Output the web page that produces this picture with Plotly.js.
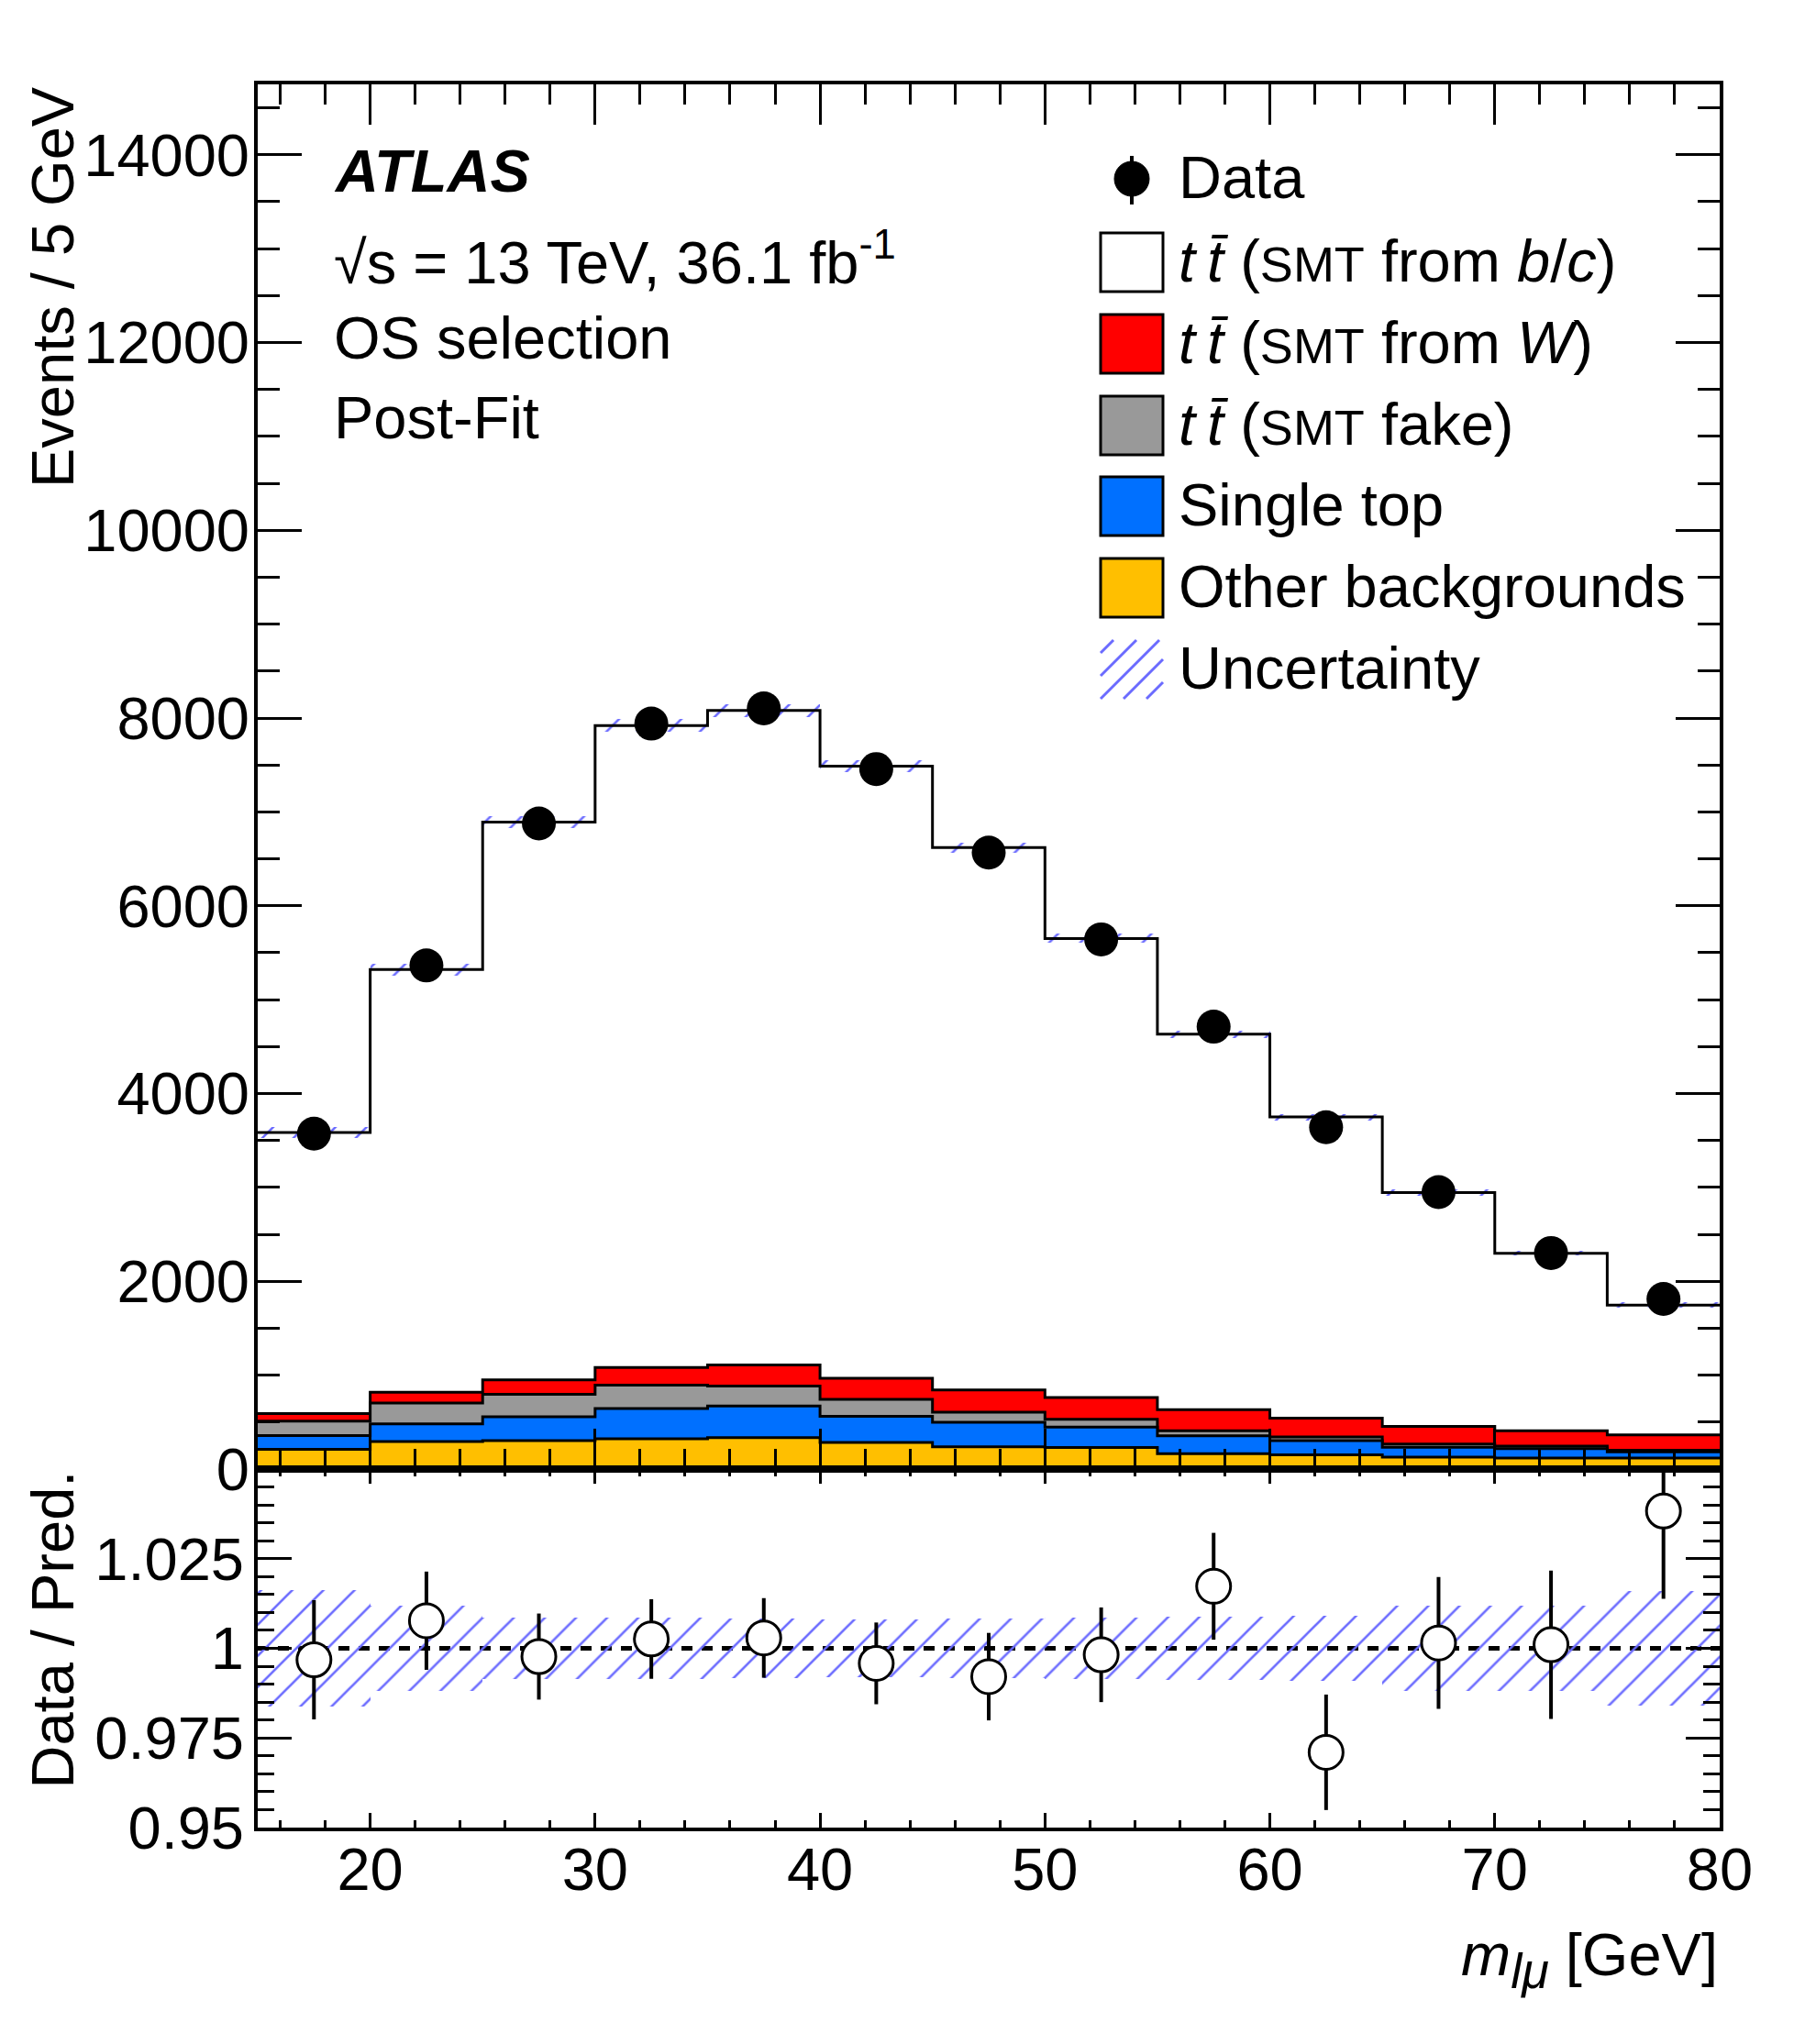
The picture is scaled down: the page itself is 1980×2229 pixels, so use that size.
<!DOCTYPE html>
<html><head><meta charset="utf-8">
<script src="https://cdn.plot.ly/plotly-3.0.1.min.js"></script>
<style>body{margin:0;background:#fff}</style>
</head><body>
<div id="chart" style="width:1980px;height:2229px"></div>
<script>
// ---------------- data ----------------
const binEdges   = [15,20,25,30,35,40,45,50,55,60,65,70,75,80];
const binCenters = [17.5,22.5,27.5,32.5,37.5,42.5,47.5,52.5,57.5,62.5,67.5,72.5,77.5];
const dataEvents = [3573,5364,6877,7941,8103,7456,6567,5642,4712,3641,2950,2301,1812];
const ttbarBC    = [2993,4503,5940,6838,6971,6520,5778,4889,4000,3207,2492,1891,1381];
const ttbarW     = [82,115,155,187,224,224,237,233,224,201,188,165,164];
const ttbarFake  = [154,224,240,250,214,181,108,83,53,40,33,26,17];
const singleTop  = [146,187,253,323,336,279,260,217,191,151,105,99,66];
const otherBkg   = [210,293,303,322,335,283,237,230,164,151,128,118,118];
const relUnc     = [0.0163,0.0119,0.0086,0.0085,0.0082,0.0080,0.0082,0.0086,0.0087,0.0090,0.0120,0.0120,0.0160];
const ratioVals  = [0.9968,1.0077,0.9977,1.0026,1.0029,0.9958,0.9921,0.9982,1.0173,0.9710,1.0015,1.0010,1.0383];
const ratioErr   = [0.0166,0.0137,0.0120,0.0111,0.0111,0.0114,0.0122,0.0132,0.0149,0.0161,0.0184,0.0207,0.0245];
const mainTickVals = [0,2000,4000,6000,8000,10000,12000,14000];
const mainTickText = ['0','2000','4000','6000','8000','10000','12000','14000'];
const ratioTickVals = [0.95,0.975,1,1.025,1.05];
const ratioTickText = ['0.95','0.975','1','1.025',' '];

// ---------------- derived stacks ----------------
const add = (a,b) => a.map((v,i)=>v+b[i]);
const cumOther = otherBkg.slice();
const cumST    = add(cumOther, singleTop);
const cumFake  = add(cumST, ttbarFake);
const cumW     = add(cumFake, ttbarW);
const total    = add(cumW, ttbarBC);
const step = a => a.concat([a[a.length-1]]);

// ---------------- geometry helpers (layout, in pixels) ----------------
const W = 1980, H = 2229;
const L = 281, R = 1875, T = 92, B = 1993, SPLIT = 1602;
const X = px => (px - L) / (R - L);
const Y = py => (B - py) / (B - T);
const yd = Y(SPLIT);

const FONT = 'Liberation Sans, Arial, Helvetica, sans-serif';
const HATCH = '#6b6bff';
const RED = '#ff0000', GRAY = '#999999', BLUE = '#0070ff', ORANGE = '#ffbf00';

const stackTrace = (cum, color) => ({
  type:'scatter', mode:'lines', x: binEdges, y: step(cum),
  line:{shape:'hv', color:'black', width:3}, fill:'tozeroy', fillcolor: color,
  xaxis:'x', yaxis:'y', hoverinfo:'skip'
});
const hatchMarker = {color:'rgba(0,0,0,0)', line:{width:0},
  pattern:{shape:'/', fgcolor:HATCH, bgcolor:'rgba(0,0,0,0)', size:24, solidity:0.11}};

const traces = [
  { type:'bar', x: binCenters, base: total.map((t,i)=>t*(1-relUnc[i])), y: total.map((t,i)=>2*t*relUnc[i]),
    width:5, xaxis:'x', yaxis:'y', marker: hatchMarker },
  stackTrace(cumW, RED),
  stackTrace(cumFake, GRAY),
  stackTrace(cumST, BLUE),
  stackTrace(cumOther, ORANGE),
  { type:'scatter', mode:'lines', x: binEdges, y: step(total),
    line:{shape:'hv', color:'black', width:3}, xaxis:'x', yaxis:'y' },
  { type:'scatter', mode:'markers', x: binCenters, y: dataEvents,
    marker:{color:'black', size:37}, xaxis:'x', yaxis:'y' },
  // ratio panel
  { type:'bar', x: binCenters, base: relUnc.map(u=>1-u), y: relUnc.map(u=>2*u),
    width:5, xaxis:'x2', yaxis:'y2', marker: hatchMarker },
  { type:'scatter', mode:'markers', x: binCenters, y: ratioVals,
    error_y:{type:'data', array: ratioErr, color:'black', thickness:4, width:0},
    marker:{color:'white', size:37, line:{color:'black', width:3}}, xaxis:'x2', yaxis:'y2' }
];

const axBase = {
  showline:true, linewidth:4, linecolor:'black', mirror:'allticks',
  ticks:'inside', tickcolor:'black', tickwidth:3, showgrid:false, zeroline:false,
  tickfont:{family:FONT, size:65, color:'black'}
};

const shapes = [
  { type:'line', xref:'x2 domain', yref:'y2', x0:0, x1:1, y0:1, y1:1, layer:'below',
    line:{color:'black', width:5, dash:'12px,10px'} }
];
const annotations = [];
const ann = (text, px, py, opts) => annotations.push(Object.assign({
  text, x:X(px), y:Y(py), xref:'paper', yref:'paper', showarrow:false,
  xanchor:'left', yanchor:'middle', font:{family:FONT, size:65, color:'black'}
}, opts||{}));

// ATLAS label block
ann('<b><i>ATLAS</i></b>', 362, 187);
ann('√s = 13 TeV, 36.1 fb<sup>-1</sup>', 362, 282);
ann('OS selection', 362, 368);
ann('Post-Fit', 362, 455);

// legend
const rows = [195, 286, 375, 464, 552, 641, 730];
const small = s => '<span style="font-size:54px">' + s + '</span>';
const tt = '<i>t\u2009t̄</i>';
const legTexts = ['Data',
  tt + ' (' + small('SMT') + ' from <i>b</i>/<i>c</i>)',
  tt + ' (' + small('SMT') + ' from <i>W</i>)',
  tt + ' (' + small('SMT') + ' fake)',
  'Single top', 'Other backgrounds', 'Uncertainty'];
legTexts.forEach((t,i)=> ann(t, 1283, rows[i]-2));
const boxColors = [null, 'white', RED, GRAY, BLUE, ORANGE];
for (let i=1;i<=5;i++){
  shapes.push({type:'rect', xref:'paper', yref:'paper', x0:X(1200), x1:X(1268), y0:Y(rows[i]+32), y1:Y(rows[i]-32),
    fillcolor: boxColors[i], line:{color:'black', width:3}});
}
// data legend symbol
shapes.push({type:'line', xref:'paper', yref:'paper', x0:X(1234), x1:X(1234), y0:Y(223), y1:Y(170), line:{color:'black', width:4}});
shapes.push({type:'circle', xref:'paper', yref:'paper', x0:X(1215), x1:X(1253), y0:Y(214), y1:Y(176), fillcolor:'black', line:{color:'black', width:1}});
// uncertainty legend hatch
(function(){
  const bx0=1200, bx1=1268, by0=698, by1=762, hgt=by1-by0;
  for (let c=-50; c<=70; c+=25){
    const t0 = Math.max(0, -c), t1 = Math.min(hgt, (bx1-bx0)-c);
    if (t1 <= t0) continue;
    shapes.push({type:'line', xref:'paper', yref:'paper',
      x0:X(bx0+c+t0), y0:Y(by1-t0), x1:X(bx0+c+t1), y1:Y(by1-t1), line:{color:HATCH, width:3}});
  }
})();

// axis titles
annotations.push({text:'Events / 5 GeV', textangle:-90, x:X(57), y:Y(92), xref:'paper', yref:'paper',
  xanchor:'center', yanchor:'top', showarrow:false, font:{family:FONT, size:65, color:'black'}});
annotations.push({text:'Data / Pred.', textangle:-90, x:X(57), y:Y(1602), xref:'paper', yref:'paper',
  xanchor:'center', yanchor:'top', showarrow:false, font:{family:FONT, size:65, color:'black'}});
annotations.push({text:'<i>m</i><sub><span style="font-size:54px"><i>lμ</i></span></sub> [GeV]', x:X(1875), y:Y(2093), xref:'paper', yref:'paper',
  xanchor:'right', yanchor:'top', showarrow:false, font:{family:FONT, size:65, color:'black'}});

const layout = {
  width:W, height:H, autosize:false,
  margin:{l:L, r:W-R, t:T, b:H-B, pad:0},
  paper_bgcolor:'white', plot_bgcolor:'white',
  showlegend:false, barmode:'overlay', bargap:0,
  font:{family:FONT, size:65, color:'black'},
  xaxis: Object.assign({}, axBase, {domain:[0,1], anchor:'y', range:[15,80], tick0:0, dtick:10, ticklen:44,
    showticklabels:false,
    minor:{ticks:'inside', ticklen:22, tickwidth:3, tickcolor:'black', tick0:0, dtick:2, showgrid:false}}),
  yaxis: Object.assign({}, axBase, {domain:[yd,1], anchor:'x', range:[0,14750], tickmode:'array',
    tickvals:mainTickVals, ticktext:mainTickText, ticklen:48, ticklabelstandoff:-8,
    minor:{ticks:'inside', ticklen:24, tickwidth:3, tickcolor:'black', tick0:0, dtick:500, showgrid:false}}),
  xaxis2: Object.assign({}, axBase, {domain:[0,1], anchor:'y2', range:[15,80], tick0:0, dtick:10, ticklen:16,
    ticklabelstandoff:-14,
    minor:{ticks:'inside', ticklen:8, tickwidth:3, tickcolor:'black', tick0:0, dtick:2, showgrid:false}}),
  yaxis2: Object.assign({}, axBase, {domain:[0,yd], anchor:'x2', range:[0.95,1.05], tickmode:'array',
    tickvals:ratioTickVals, ticktext:ratioTickText, ticklen:37, ticklabelstandoff:-2,
    minor:{ticks:'inside', ticklen:18, tickwidth:3, tickcolor:'black', tick0:0.95, dtick:0.005, showgrid:false}}),
  shapes, annotations
};

Plotly.newPlot('chart', traces, layout, {staticPlot:true});
</script>
</body></html>
